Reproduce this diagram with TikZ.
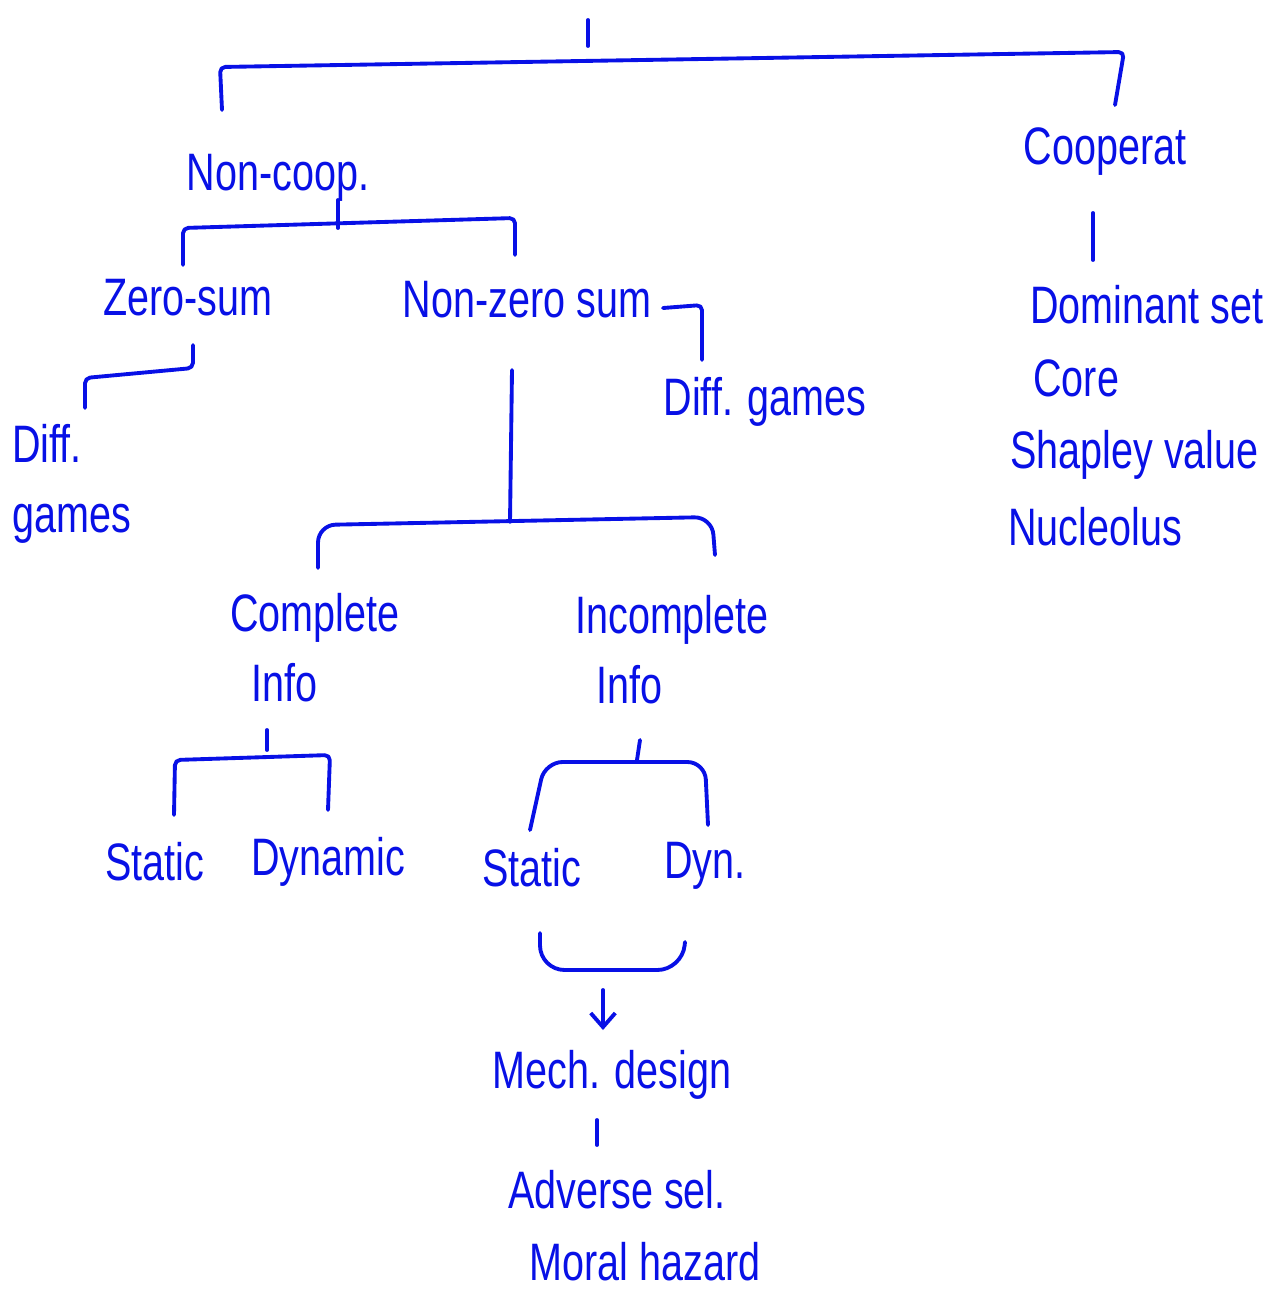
\documentclass[tikz,border=0pt]{standalone}
\usepackage{fontspec}
\setmainfont[FakeStretch=0.75]{Liberation Sans}
\usetikzlibrary{arrows.meta}
\definecolor{ink}{RGB}{8,16,230}
\begin{document}
\begin{tikzpicture}[x=0.02cm,y=-0.02cm,
  lbl/.style={text=ink,font=\fontsize{30}{40}\selectfont,inner sep=0pt},
  link/.style={draw=ink,line width=2.2pt,line cap=round,line join=round,rounded corners=3pt}]
\useasboundingbox (0,0) rectangle (1267,1292);
% nodes
\node[lbl] (noncoop) at (278,178) {Non-coop.};
\node[lbl] (coop) at (1105,152) {Cooperat};
\node[lbl] (zerosum) at (188,298) {Zero-sum};
\node[lbl] (nonzero) at (527,300) {Non-zero sum};
\node[lbl,align=left,anchor=west] (diffL) at (12,484) {Diff.\\games};
\node[lbl] (diffR) at (765,402) {Diff. games};
\node[lbl,anchor=west] (domset) at (1030,305) {Dominant set};
\node[lbl,anchor=west] (core) at (1033,378) {Core};
\node[lbl,anchor=west] (shapley) at (1010,455) {Shapley value};
\node[lbl,anchor=west] (nucleolus) at (1008,527) {Nucleolus};
\node[lbl,align=left,anchor=west] (complete) at (230,648) {Complete\\\hspace*{0.4em}Info};
\node[lbl,align=left,anchor=west] (incomplete) at (575,650) {Incomplete\\\hspace*{0.4em}Info};
\node[lbl] (staticA) at (155,862) {Static};
\node[lbl] (dynamicA) at (328,862) {Dynamic};
\node[lbl] (staticB) at (532,868) {Static};
\node[lbl] (dynB) at (705,866) {Dyn.};
\node[lbl] (mech) at (612,1075) {Mech. design};
\node[lbl] (adverse) at (617,1190) {Adverse sel.};
\node[lbl] (moral) at (645,1262) {Moral hazard};
% connector points
\coordinate (r0) at (588,20);
\coordinate (r1) at (588,46);
\coordinate (b1l) at (222,110);
\coordinate (b1lc) at (220,67);
\coordinate (b1rc) at (1124,52);
\coordinate (b1r) at (1115,105);
\coordinate (co0) at (1093,213);
\coordinate (co1) at (1093,260);
\coordinate (nc0) at (338,200);
\coordinate (b2l) at (183,265);
\coordinate (b2lc) at (183,228);
\coordinate (b2rc) at (515,218);
\coordinate (b2r) at (515,255);
\coordinate (nz0) at (663,308);
\coordinate (nzc) at (702,305);
\coordinate (nz1) at (702,360);
\coordinate (zs0) at (193,345);
\coordinate (zsc) at (193,368);
\coordinate (zslc) at (85,378);
\coordinate (zs1) at (85,408);
\coordinate (v0) at (512,370);
\coordinate (v1) at (510,522);
\coordinate (b3l) at (318,568);
\coordinate (b3lc) at (318,525);
\coordinate (b3rc) at (712,517);
\coordinate (b3r) at (715,555);
\coordinate (ci0) at (267,730);
\coordinate (ci1) at (267,750);
\coordinate (b4l) at (174,815);
\coordinate (b4lc) at (175,760);
\coordinate (b4rc) at (330,755);
\coordinate (b4r) at (328,810);
\coordinate (ii0) at (640,740);
\coordinate (ii1) at (637,760);
\coordinate (b5l) at (530,830);
\coordinate (b5lc) at (545,762);
\coordinate (b5rc) at (705,762);
\coordinate (b5r) at (708,825);
\coordinate (u0) at (540,933);
\coordinate (u1) at (540,970);
\coordinate (u2) at (682,970);
\coordinate (u3) at (685,942);
\coordinate (a0) at (603,990);
\coordinate (a1) at (603,1030);
\coordinate (m0) at (597,1120);
\coordinate (m1) at (597,1145);
% connectors
\draw[link] (r0) -- (r1);
\draw[link] (b1l) -- (b1lc) -- (b1rc) -- (b1r);
\draw[link] (co0) -- (co1);
\draw[link] (nc0) -- (nc0 |- b2lc);
\draw[link] (b2l) -- (b2lc) -- (b2rc) -- (b2r);
\draw[link] (nz0) -- (nzc) -- (nz1);
\draw[link] (zs0) -- (zsc) -- (zslc) -- (zs1);
\draw[link] (v0) -- (v1);
\draw[link,rounded corners=10pt] (b3l) -- (b3lc) -- (b3rc) -- (b3r);
\draw[link] (ci0) -- (ci1);
\draw[link] (b4l) -- (b4lc) -- (b4rc) -- (b4r);
\draw[link] (ii0) -- (ii1);
\draw[link,rounded corners=10pt] (b5l) -- (b5lc) -- (b5rc) -- (b5r);
\draw[link,rounded corners=14pt] (u0) -- (u1) -- (u2) -- (u3);
\draw[link,-{Straight Barb[length=8pt,width=14pt]}] (a0) -- (a1);
\draw[link] (m0) -- (m1);
\end{tikzpicture}
\end{document}
